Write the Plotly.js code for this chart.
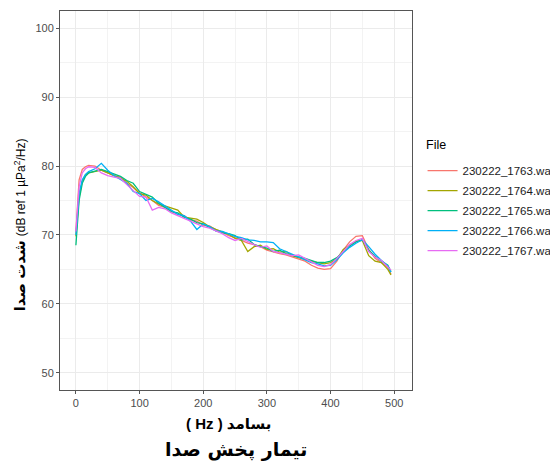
<!DOCTYPE html>
<html>
<head>
<meta charset="utf-8">
<script src="https://cdn.plot.ly/plotly-3.0.1.min.js"></script>
<style>html,body{margin:0;padding:0;background:#fff;overflow:hidden;}#chart{width:550px;height:464px;}</style>
</head>
<body>
<div id="chart"></div>
<script>
const freq = [0,5,10,15,20,30,40,50,60,70,80,90,100,110,120,130,140,150,160,170,180,190,200,210,220,230,240,250,260,270,280,290,300,310,320,330,340,350,360,370,380,390,400,410,420,430,440,450,460,470,480,490,495];
const files = ["230222_1763.wav","230222_1764.wav","230222_1765.wav","230222_1766.wav","230222_1767.wav"];
const s1763 = [70.5,78.0,79.5,79.9,80.1,80.0,79.4,79.0,78.6,78.4,77.5,76.9,76.1,75.5,75.0,74.3,74.0,73.4,73.0,72.8,72.2,72.0,71.4,71.3,70.7,70.4,69.9,69.6,69.2,68.8,68.6,68.3,67.8,67.5,67.3,67.1,66.8,66.6,66.2,65.6,65.2,65.0,65.1,66.2,67.8,69.0,69.8,69.9,67.9,66.6,66.0,65.3,64.3];
const s1764 = [69.8,75.5,77.8,78.7,79.0,79.2,79.4,79.0,78.6,78.3,77.8,77.0,76.0,75.8,75.0,74.5,74.2,73.9,73.6,72.6,72.4,72.3,71.8,71.2,70.8,70.5,70.1,69.5,69.2,67.6,68.3,68.5,67.9,68.0,67.5,67.6,67.0,66.7,66.4,66.2,66.0,65.8,66.0,66.5,67.9,68.5,69.1,69.2,67.0,66.2,66.0,65.0,64.2];
const s1765 = [68.5,75.0,77.5,78.5,79.0,79.3,79.5,79.2,78.8,78.5,77.9,77.5,76.3,75.9,75.5,74.6,74.0,73.4,73.2,72.6,72.3,71.8,71.6,71.1,70.6,70.3,70.2,69.9,69.3,69.4,68.6,68.3,68.1,67.6,67.8,67.3,67.0,66.8,66.6,66.3,66.0,66.0,66.2,66.7,67.6,68.4,69.0,69.3,67.8,66.9,66.2,65.6,64.7];
const s1766 = [70.0,76.0,78.0,78.8,79.2,79.6,80.4,79.4,78.6,78.0,77.5,76.3,76.0,75.0,75.3,74.8,74.2,73.5,73.0,72.8,72.0,70.8,71.6,71.2,70.6,70.5,70.1,69.8,69.6,69.3,69.2,69.0,69.0,68.9,68.0,67.6,67.2,66.9,66.4,66.0,65.8,65.5,65.6,66.4,67.4,68.2,68.8,69.3,68.3,67.2,66.3,65.5,64.6];
const s1767 = [70.5,77.0,79.0,79.6,79.9,79.8,79.0,78.6,78.4,78.2,77.3,76.5,75.6,75.5,73.6,74.0,73.8,73.2,72.8,72.5,72.0,71.7,71.2,71.0,70.6,70.2,69.6,69.2,69.5,69.0,68.6,68.2,68.4,67.6,67.4,67.2,67.0,67.1,66.6,66.0,65.6,65.4,65.7,66.6,67.6,68.6,69.2,69.5,67.6,66.8,66.3,65.4,64.9];
const series = [s1763, s1764, s1765, s1766, s1767];
const colors = ["#F8766D","#A3A500","#00BF7D","#00B0F6","#E76BF3"];
const xTicks = [0,100,200,300,400,500];
const yTicks = [50,60,70,80,90,100];

const traces = series.map((s, i) => ({
  x: freq, y: s, type: 'scatter', mode: 'lines', name: files[i],
  legendgroup: 'g' + i,
  line: {color: colors[i], width: 1.3}
}));

const axisCommon = {
  showline: true, mirror: true, linecolor: '#555555', linewidth: 1,
  ticks: 'outside', ticklen: 3, tickcolor: '#555555', tickwidth: 1,
  gridcolor: '#EBEBEB', gridwidth: 1, zeroline: false,
  tickfont: {family: 'Liberation Sans, Arial, sans-serif', size: 11, color: '#4D4D4D'}
};

const layout = {
  width: 550, height: 464,
  margin: {l: 60, r: 138, t: 11, b: 74, autoexpand: false},
  paper_bgcolor: '#ffffff', plot_bgcolor: '#ffffff',
  font: {family: 'Liberation Sans, DejaVu Sans, sans-serif', color: '#000'},
  xaxis: Object.assign({}, axisCommon, {
    range: [-25, 528], tickvals: xTicks, ticktext: xTicks.map(String),
    minor: {dtick: 50, tick0: 0, showgrid: true, gridcolor: '#F3F3F3', gridwidth: 0.6}
  }),
  yaxis: Object.assign({}, axisCommon, {
    range: [47.5, 102.5], tickvals: yTicks, ticktext: yTicks.map(String),
    minor: {dtick: 5, tick0: 0, showgrid: true, gridcolor: '#F3F3F3', gridwidth: 0.6}
  }),
  showlegend: true,
  legend: {
    x: 1.03, xanchor: 'left', y: 0.617, yanchor: 'top',
    traceorder: 'grouped', tracegroupgap: 1,
    font: {family: 'Liberation Sans, Arial, sans-serif', size: 11.5, color: '#1a1a1a'},
    bgcolor: 'rgba(0,0,0,0)'
  },
  annotations: [
    {xref: 'paper', yref: 'paper', x: 1.035, y: 0.647, xanchor: 'left', yanchor: 'middle',
     showarrow: false, text: 'File',
     font: {family: 'Liberation Sans, Arial, sans-serif', size: 12.5, color: '#000'}},
    {xref: 'paper', yref: 'paper', x: -0.116, y: 0.435, xanchor: 'center', yanchor: 'middle',
     textangle: -90, showarrow: false,
     text: '<b>شدت صدا</b> <span style="font-size:12px">(dB ref 1 µPa<sup>2</sup>/Hz)</span>',
     font: {family: 'Liberation Sans, DejaVu Sans, sans-serif', size: 15, color: '#000'}},
    {xref: 'paper', yref: 'paper', x: 0.478, y: -0.06, xanchor: 'center', yanchor: 'top',
     showarrow: false, text: '<b>( Hz ) بسامد</b>',
     font: {family: 'Liberation Sans, DejaVu Sans, sans-serif', size: 15, color: '#000'}},
    {xref: 'paper', yref: 'paper', x: 0.501, y: -0.122, xanchor: 'center', yanchor: 'top',
     showarrow: false, text: '<b>تیمار پخش صدا</b>',
     font: {family: 'DejaVu Sans, sans-serif', size: 19, color: '#000'}}
  ]
};

Plotly.newPlot('chart', traces, layout, {displayModeBar: false, responsive: false});
</script>
</body>
</html>
